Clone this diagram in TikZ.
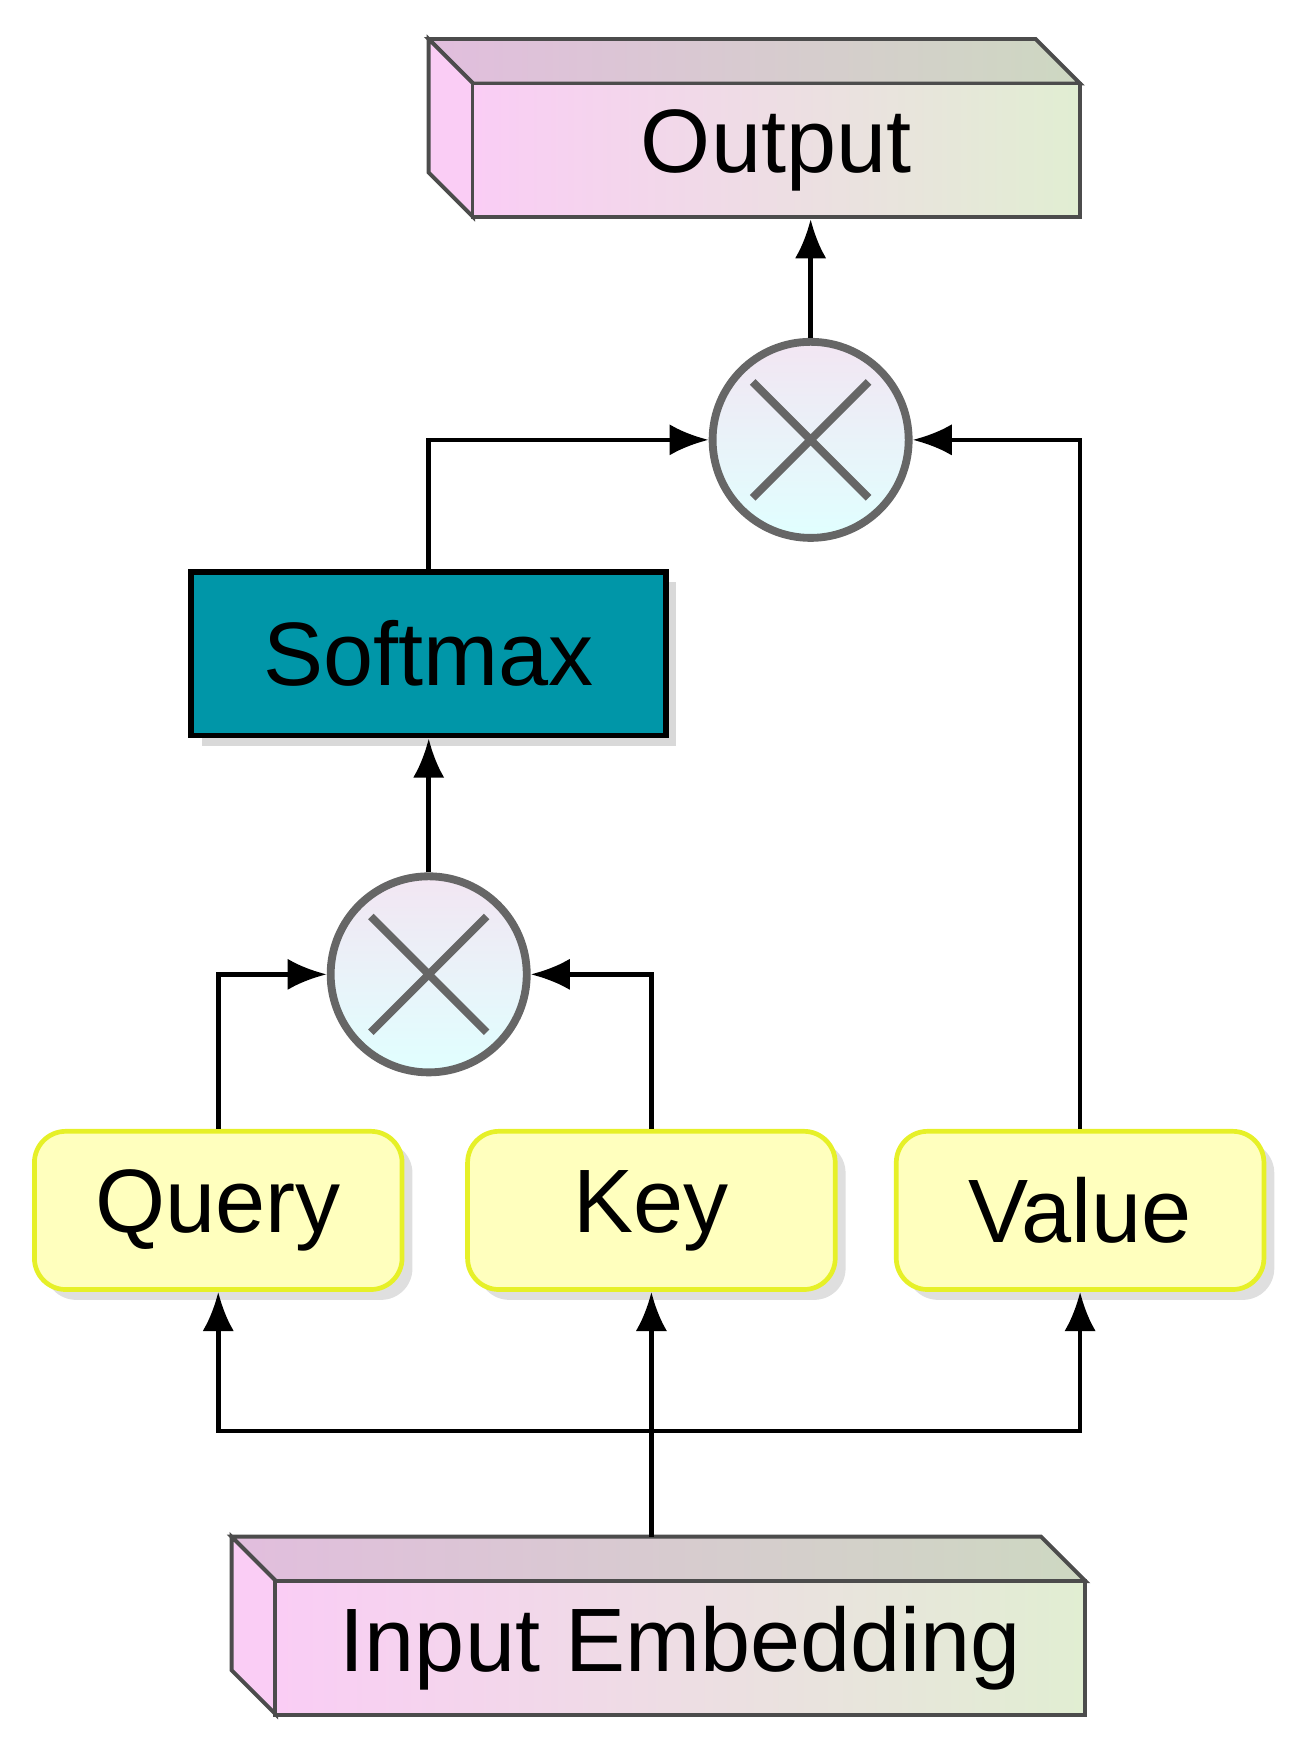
\documentclass[tikz,border=0pt]{standalone}
\usepackage{fontspec}
\setmainfont{Liberation Sans}
\usetikzlibrary{arrows.meta,shadows}
\definecolor{teal}{RGB}{0,150,168}
\definecolor{qyellow}{RGB}{255,255,190}
\definecolor{qborder}{RGB}{230,240,40}
\definecolor{pinkf}{RGB}{250,205,245}
\definecolor{greenf}{RGB}{225,238,210}
\begin{document}
\begin{tikzpicture}[x=0.01cm,y=-0.01cm,
    txt/.style={font=\fontsize{23}{27}\selectfont},
    qkv/.style={draw=qborder,line width=1.2pt,fill=qyellow,rounded corners=8pt,
        minimum width=3.3cm,minimum height=1.42cm,txt,drop shadow={opacity=0.25}},
    mult/.style={circle,draw=black!60,line width=2pt,minimum size=1.76cm,
        top color=violet!10,bottom color=cyan!12},
    link/.style={line width=1.2pt,-{Latex[length=10pt,width=8pt]}}]
    \useasboundingbox (0,0) rectangle (1165,1568);

    % 3D boxes
    \shade[left color=pinkf!80!gray,right color=greenf!80!gray,draw=black!70,line width=1pt]
        (385,35) -- (930,35) -- (970,75) -- (425,75) -- cycle;
    \fill[pinkf,draw=black!70,line width=1pt] (385,35) -- (425,75) -- (425,195) -- (385,155) -- cycle;
    \node[draw=black!70,line width=1pt,left color=pinkf,right color=greenf,
        minimum width=5.45cm,minimum height=1.2cm,txt] (out) at (697,135) {Output};

    \shade[left color=pinkf!80!gray,right color=greenf!80!gray,draw=black!70,line width=1pt]
        (208,1380) -- (935,1380) -- (975,1420) -- (248,1420) -- cycle;
    \fill[pinkf,draw=black!70,line width=1pt] (208,1380) -- (248,1420) -- (248,1540) -- (208,1500) -- cycle;
    \node[draw=black!70,line width=1pt,left color=pinkf,right color=greenf,
        minimum width=7.27cm,minimum height=1.2cm,txt] (emb) at (611,1480) {Input Embedding};
    \coordinate (embtop) at (585,1380);

    % circles
    \node[mult] (m2) at (728,395) {};
    \draw[black!60,line width=2pt] ([shift={(-52,-52)}]m2.center) -- ([shift={(52,52)}]m2.center)
        ([shift={(52,-52)}]m2.center) -- ([shift={(-52,52)}]m2.center);
    \node[mult] (m1) at (385,875) {};
    \draw[black!60,line width=2pt] ([shift={(-52,-52)}]m1.center) -- ([shift={(52,52)}]m1.center)
        ([shift={(52,-52)}]m1.center) -- ([shift={(-52,52)}]m1.center);

    % boxes
    \node[draw=black,line width=1.5pt,fill=teal,minimum width=4.26cm,minimum height=1.47cm,
        txt,drop shadow={opacity=0.3}] (soft) at (385,587) {Softmax\hspace{0.4cm}};
    \node[qkv] (q) at (196,1087) {Query};
    \node[qkv] (k) at (585,1087) {Key};
    \node[qkv] (v) at (970,1087) {Value};

    % connectors
    \coordinate (split) at (585,1285);
    \draw[link] (m2.north) -- (m2.north |- out.south);
    \draw[link] (m1.north) -- (soft.south);
    \draw[link] (soft.north) |- (m2.west);
    \draw[link] (v.north) |- (m2.east);
    \draw[link] (q.north) |- (m1.west);
    \draw[link] (k.north) |- (m1.east);
    \draw[link] (embtop) -- (k.south);
    \draw[link] (split) -| (q.south);
    \draw[link] (split) -| (v.south);
\end{tikzpicture}
\end{document}
